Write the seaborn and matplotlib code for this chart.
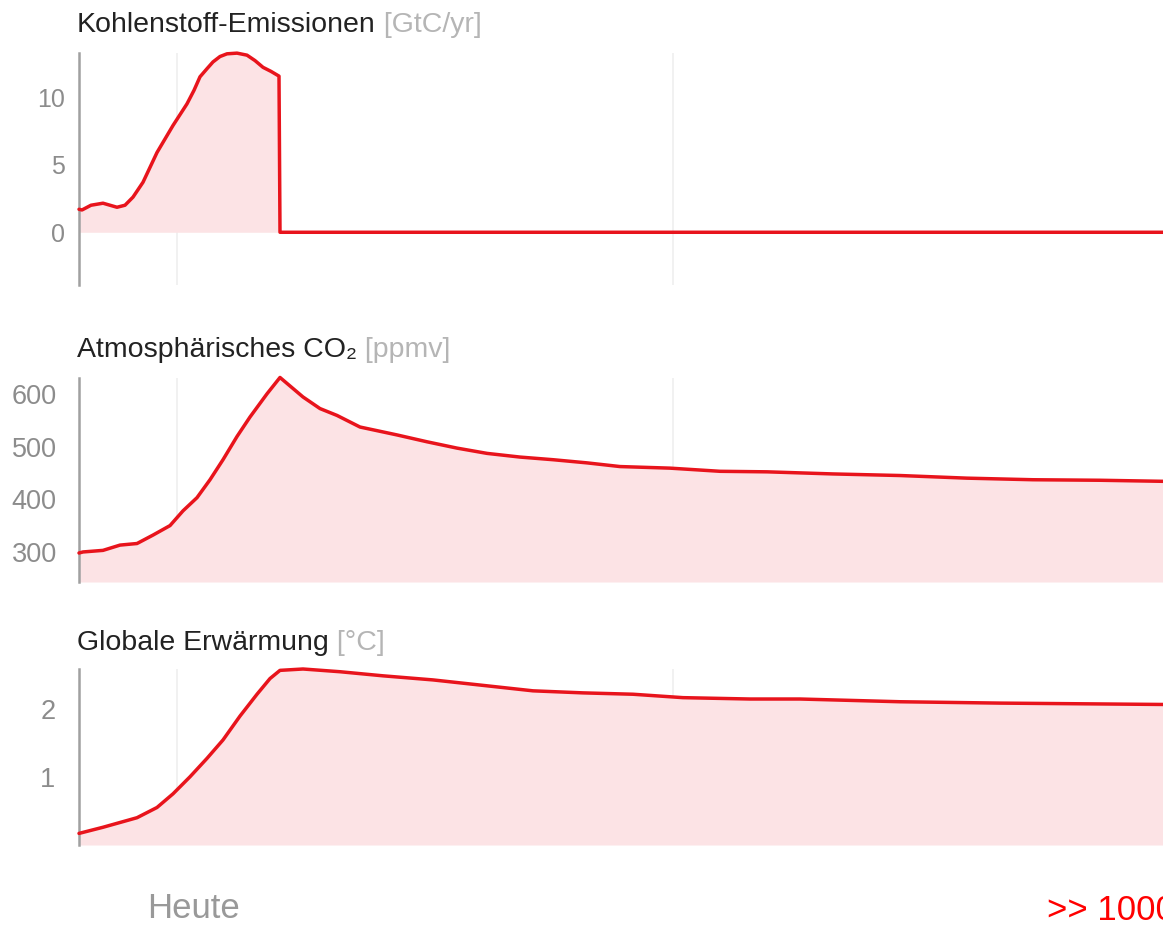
import numpy as np
import seaborn as sns
import matplotlib.pyplot as plt

# --- Daten ---
em_years = [1900, 1903, 1912, 1924, 1938, 1946, 1954, 1964, 1971, 1978, 1986, 1994, 2001, 2008,
            2015, 2021, 2028, 2034, 2041, 2048, 2058, 2068, 2076, 2084, 2092, 2100, 2101, 2984]
em_values = [1.7, 1.65, 2.0, 2.15, 1.85, 2.0, 2.6, 3.7, 4.8, 5.9, 6.9, 7.9, 8.7, 9.5,
             10.5, 11.5, 12.1, 12.6, 13.0, 13.2, 13.25, 13.1, 12.7, 12.2, 11.9, 11.55, 0.0, 0.0]

co2_years = [1900, 1904, 1924, 1941, 1958, 1974, 1991, 2004, 2018, 2031, 2044, 2058, 2071, 2088,
             2101, 2124, 2141, 2158, 2181, 2218, 2248, 2278, 2308, 2341, 2374, 2408, 2441,
             2491, 2541, 2588, 2654, 2721, 2788, 2854, 2921, 2984]
co2_values = [298, 300, 303, 313, 316, 332, 350, 378, 403, 437, 475, 519, 556, 600,
              631, 594, 572, 559, 537, 522, 509, 497, 487, 480, 475, 469, 462,
              459, 453, 452, 448, 445, 440, 437, 436, 434]

temp_years = [1900, 1924, 1958, 1978, 1994, 2011, 2028, 2044, 2061, 2078, 2091, 2101, 2124,
              2161, 2204, 2254, 2304, 2354, 2404, 2454, 2504, 2571, 2621, 2721, 2821, 2984]
temp_values = [0.17, 0.26, 0.40, 0.55, 0.75, 1.0, 1.27, 1.54, 1.89, 2.21, 2.44, 2.56, 2.58,
               2.54, 2.48, 2.42, 2.34, 2.26, 2.23, 2.21, 2.16, 2.14, 2.14, 2.10, 2.08, 2.06]

panels = [
    ("Kohlenstoff-Emissionen", " [GtC/yr]", em_years, em_values, [0, 5, 10], (-3.9, 13.26), 0),
    ("Atmosphärisches CO₂", " [ppmv]", co2_years, co2_values, [300, 400, 500, 600], (243, 630), 243),
    ("Globale Erwärmung", " [°C]", temp_years, temp_values, [1, 2], (0, 2.58), 0),
]
grid_years = [1998, 2494]

# --- Stil ---
sns.set_style("white")
plt.rcParams['font.family'] = ['Liberation Sans', 'DejaVu Sans']

W, H = 1163, 925
fig = plt.figure(figsize=(W / 100, H / 100), dpi=100)

# Achsen in Pixeln: (oben, unten, Titel-Grundlinie, Label-Abstand, Labelgröße)
boxes = [(53, 285, 32, 10, 18), (378, 582, 357, 16, 19.5), (669, 845, 650, 17, 19.5)]
left_px = 79

red = "#e8141c"
fill = "#fce3e5"
gray = "#8c8c8c"

for (title, unit, xs, ys, ticks, ylim, base), (top, bot, tb, pad, lsize) in zip(panels, boxes):
    ax = fig.add_axes([left_px / W, 1 - bot / H, 1 - left_px / W, (bot - top) / H])
    for g in grid_years:
        ax.axvline(g, color="#efefef", lw=1.2, zorder=0)
    ax.fill_between(xs, base, ys, color=fill, lw=0, zorder=1)
    sns.lineplot(x=xs, y=ys, ax=ax, color=red, lw=2.5, zorder=3, clip_on=False)
    ax.set_xlim(1900, 2984)
    ax.set_ylim(*ylim)
    ax.set_yticks(ticks)
    ax.set_yticklabels([str(t) for t in ticks])
    ax.set_xticks([])
    ax.set_xlabel("")
    ax.set_ylabel("")
    for s in ["top", "right", "bottom"]:
        ax.spines[s].set_visible(False)
    ax.spines["left"].set_color("#a0a0a0")
    ax.spines["left"].set_linewidth(1.8)
    ax.tick_params(axis="y", direction="in", length=8, width=1.2, color="#a0a0a0",
                   labelsize=lsize, labelcolor=gray, pad=pad)

    t = fig.text(77 / W, 1 - tb / H, title, fontsize=20.5,
                 color="#222222", ha="left", va="baseline")
    ax.annotate(unit, xy=(1, 0), xycoords=t, va="bottom", ha="left",
                fontsize=20.5, color="#b5b5b5")

fig.text(193 / W, 1 - 918 / H, "Heute", fontsize=25, color="#999999",
         ha="center", va="baseline")
fig.text(1047 / W, 1 - 920 / H, ">> 1000", fontsize=25, color="#ff0000",
         ha="left", va="baseline")

plt.savefig("out.png", dpi=100)
